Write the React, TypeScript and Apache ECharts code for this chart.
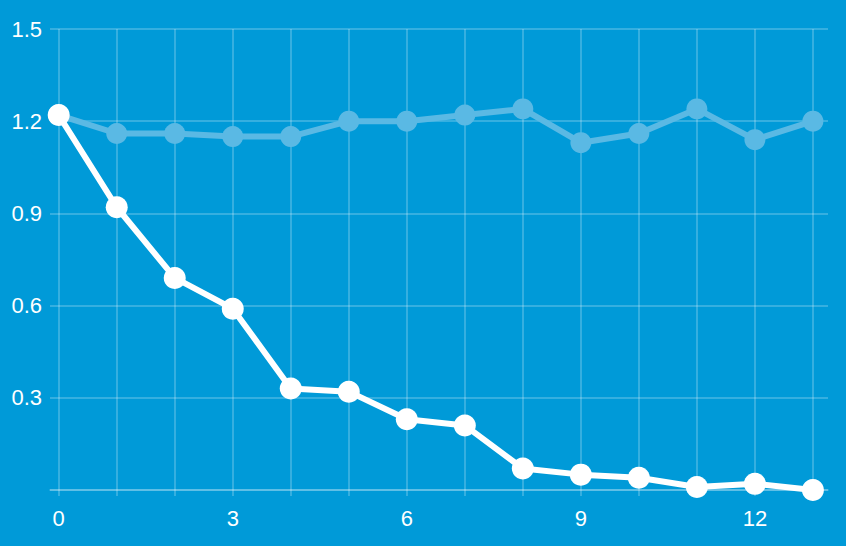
import React, { useEffect, useRef } from "react";
import * as echarts from "echarts";

const xValues = [0, 1, 2, 3, 4, 5, 6, 7, 8, 9, 10, 11, 12, 13];
const xLabelValues = [0, 3, 6, 9, 12];
const lightSeries = [1.22, 1.16, 1.16, 1.15, 1.15, 1.2, 1.2, 1.22, 1.24, 1.13, 1.16, 1.24, 1.14, 1.2];
const whiteSeries = [1.22, 0.92, 0.69, 0.59, 0.33, 0.32, 0.23, 0.21, 0.07, 0.05, 0.04, 0.01, 0.02, 0.0];

export default function App() {
  const ref = useRef<HTMLDivElement>(null);
  useEffect(() => {
    if (!ref.current) return;
    const chart = echarts.init(ref.current, undefined, { renderer: "svg" });
    const gridColor = "rgba(255,255,255,0.28)";
    const font = "'Liberation Sans', Arial, Helvetica, sans-serif";
    chart.setOption({
      animation: false,
      backgroundColor: "#009ad8",
      grid: { left: 50, right: 18, top: 29, bottom: 56, containLabel: false },
      xAxis: {
        type: "value",
        min: -0.15,
        max: 13.26,
        axisLine: { show: true, lineStyle: { color: gridColor, width: 1.5 } },
        axisTick: { show: true, customValues: xValues, length: 6, lineStyle: { color: gridColor, width: 1.5 } },
        axisLabel: {
          customValues: xLabelValues,
          color: "#ffffff",
          fontSize: 22,
          fontFamily: font,
          margin: 17,
        },
        splitLine: { show: true, lineStyle: { color: gridColor, width: 1.5 } },
      },
      yAxis: {
        type: "value",
        min: 0,
        max: 1.5,
        interval: 0.3,
        axisLine: { show: false },
        axisTick: { show: false },
        axisLabel: {
          color: "#ffffff",
          fontSize: 22,
          fontFamily: font,
          margin: 8,
          formatter: (v: number) => (v === 0 ? "" : v.toFixed(1)),
        },
        splitLine: { show: true, lineStyle: { color: gridColor, width: 1.5 } },
      },
      series: [
        {
          type: "line",
          data: xValues.map((x, i) => [x, lightSeries[i]]),
          symbol: "circle",
          symbolSize: 21,
          lineStyle: { color: "#5ab9e4", width: 6 },
          itemStyle: { color: "#5ab9e4" },
          z: 2,
        },
        {
          type: "line",
          data: xValues.map((x, i) => [x, whiteSeries[i]]),
          symbol: "circle",
          symbolSize: 22,
          lineStyle: { color: "#ffffff", width: 6 },
          itemStyle: { color: "#ffffff" },
          z: 3,
        },
      ],
    });
    return () => chart.dispose();
  }, []);
  return <div ref={ref} style={{ width: 846, height: 546, position: "absolute", left: 0, top: 0 }} />;
}
